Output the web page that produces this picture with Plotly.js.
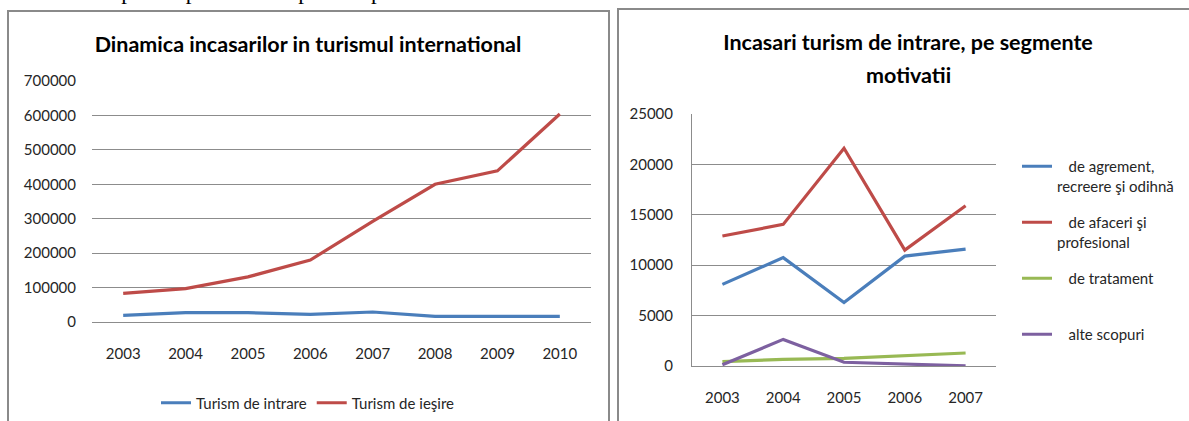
<!DOCTYPE html>
<html>
<head>
<meta charset="utf-8">
<script src="https://cdn.plot.ly/plotly-3.0.1.min.js"></script>
<style>
  html, body { margin:0; padding:0; background:#fff; width:1189px; height:421px; overflow:hidden; position:relative; }
  #toptext { position:absolute; left:0; top:-20px; font-family:"Liberation Serif","DejaVu Serif",serif; font-size:23px; line-height:23px; white-space:nowrap; color:#000; }
  .frame { position:absolute; border:2px solid #8a8a8a; box-sizing:border-box; background:#fff; }
  #frameL { left:7px; top:10px; width:603px; height:430px; }
  #frameR { left:617px; top:8px; width:600px; height:430px; }
  #chartL { position:absolute; left:8px; top:11px; width:600px; height:410px; }
  #chartR { position:absolute; left:619px; top:10px; width:570px; height:411px; }
</style>
</head>
<body>
<div id="toptext">ne succesive pentru perioada de până în prezent</div>
<div class="frame" id="frameL"></div>
<div class="frame" id="frameR"></div>
<div id="chartL"></div>
<div id="chartR"></div>
<script>
// ---- Left chart data ----
const yearsL = ["2003","2004","2005","2006","2007","2008","2009","2010"];
const turismIntrare = [19500, 27000, 27000, 22000, 29000, 16500, 16500, 16500];
const turismIesire  = [83000, 97000, 131000, 180000, 292000, 400000, 439000, 604000];
const namesL = ["Turism de intrare", "Turism de ieşire"];
const titleL = "Dinamica incasarilor in turismul international";
const yTicksL = [0, 100000, 200000, 300000, 400000, 500000, 600000, 700000];

// ---- Right chart data ----
const yearsR = ["2003","2004","2005","2006","2007"];
const agrement  = [8100, 10750, 6300, 10900, 11600];
const afaceri   = [12900, 14050, 21600, 11500, 15900];
const tratament = [430, 660, 760, 1000, 1290];
const alte      = [120, 2640, 370, 200, 20];
const namesR = ["&nbsp;&nbsp;&nbsp;de agrement,<br>recreere şi odihnă",
                "&nbsp;&nbsp;&nbsp;de afaceri şi<br>profesional",
                "&nbsp;&nbsp;&nbsp;de tratament<br>&nbsp;",
                "&nbsp;&nbsp;&nbsp;alte scopuri<br>&nbsp;"];
const titleR1 = "Incasari turism de intrare, pe segmente";
const titleR2 = "motivatii";
const yTicksR = [0, 5000, 10000, 15000, 20000, 25000];

const BLUE = "#4a7ebb", RED = "#be4b48", GREEN = "#98b954", PURPLE = "#7d60a0";
const GRID = "#8c8c8c";
const FONT = "Lato, 'Open Sans', sans-serif";

const lineTrace = (x, y, name, color, group) => ({
  type: "scatter", mode: "lines", x: x, y: y, name: name,
  line: {color: color, width: 3.2}, legendgroup: group, hoverinfo: "skip"
});

Plotly.newPlot("chartL", [
  lineTrace(yearsL, turismIntrare, namesL[0], BLUE, "a"),
  lineTrace(yearsL, turismIesire, namesL[1], RED, "b")
], {
  width: 600, height: 410,
  margin: {l: 84, r: 17, t: 70, b: 99},
  paper_bgcolor: "rgba(0,0,0,0)", plot_bgcolor: "rgba(0,0,0,0)",
  font: {family: FONT, size: 15, color: "#262626"},
  title: {text: "<b>" + titleL + "</b>", font: {family: FONT, size: 21.5, color: "#000"},
          x: 0.5, xref: "container", y: 1 - 33/410, yref: "container", yanchor: "middle"},
  xaxis: {type: "category", range: [-0.5, 7.5], showgrid: false, showline: true, linecolor: GRID, linewidth: 1,
          ticks: "", ticklabelstandoff: 18, fixedrange: true},
  yaxis: {range: [0, 700000], tickvals: yTicksL, ticktext: yTicksL.map(String), showgrid: true,
          gridcolor: GRID, gridwidth: 1, zeroline: false, showline: false, ticks: "",
          ticklabelstandoff: 15, fixedrange: true},
  showlegend: true,
  legend: {orientation: "h", x: 0.5, xanchor: "center", xref: "container", y: 1 - 392/410, yanchor: "middle",
           yref: "container", font: {family: FONT, size: 15, color: "#262626"}, itemwidth: 30, bgcolor: "rgba(0,0,0,0)"}
}, {staticPlot: true});

Plotly.newPlot("chartR", [
  lineTrace(yearsR, agrement, namesR[0], BLUE, "a"),
  lineTrace(yearsR, afaceri, namesR[1], RED, "b"),
  lineTrace(yearsR, tratament, namesR[2], GREEN, "c"),
  lineTrace(yearsR, alte, namesR[3], PURPLE, "d")
], {
  width: 570, height: 411,
  margin: {l: 73, r: 193, t: 104, b: 55},
  paper_bgcolor: "rgba(0,0,0,0)", plot_bgcolor: "rgba(0,0,0,0)",
  font: {family: FONT, size: 15, color: "#262626"},
  title: {text: "<b>" + titleR1 + "</b>", font: {family: FONT, size: 21.5, color: "#000"},
          x: 289/570, xref: "container", xanchor: "center", y: 1 - 32/411, yref: "container", yanchor: "middle"},
  annotations: [{text: "<b>" + titleR2 + "</b>", font: {family: FONT, size: 21.5, color: "#000"},
                 x: (289 - 73)/304, xref: "paper", xanchor: "center", y: (356 - 65)/252, yref: "paper", yanchor: "middle",
                 showarrow: false}],
  xaxis: {type: "category", range: [-0.5, 4.5], showgrid: false, showline: true, linecolor: GRID, linewidth: 1,
          ticks: "", ticklabelstandoff: 18, fixedrange: true},
  yaxis: {range: [0, 25000], tickvals: yTicksR, ticktext: yTicksR.map(String), showgrid: true,
          gridcolor: GRID, gridwidth: 1, zeroline: false, showline: true, linecolor: GRID, linewidth: 1, ticks: "",
          ticklabelstandoff: 15, fixedrange: true},
  showlegend: true,
  legend: {orientation: "v", x: 398/570, xanchor: "left", xref: "container", y: 1 - 140/411, yanchor: "top",
           yref: "container", valign: "top", tracegroupgap: 14, traceorder: "grouped",
           font: {family: FONT, size: 15, color: "#262626"}, itemwidth: 30, bgcolor: "rgba(0,0,0,0)"}
}, {staticPlot: true});
</script>
</body>
</html>
